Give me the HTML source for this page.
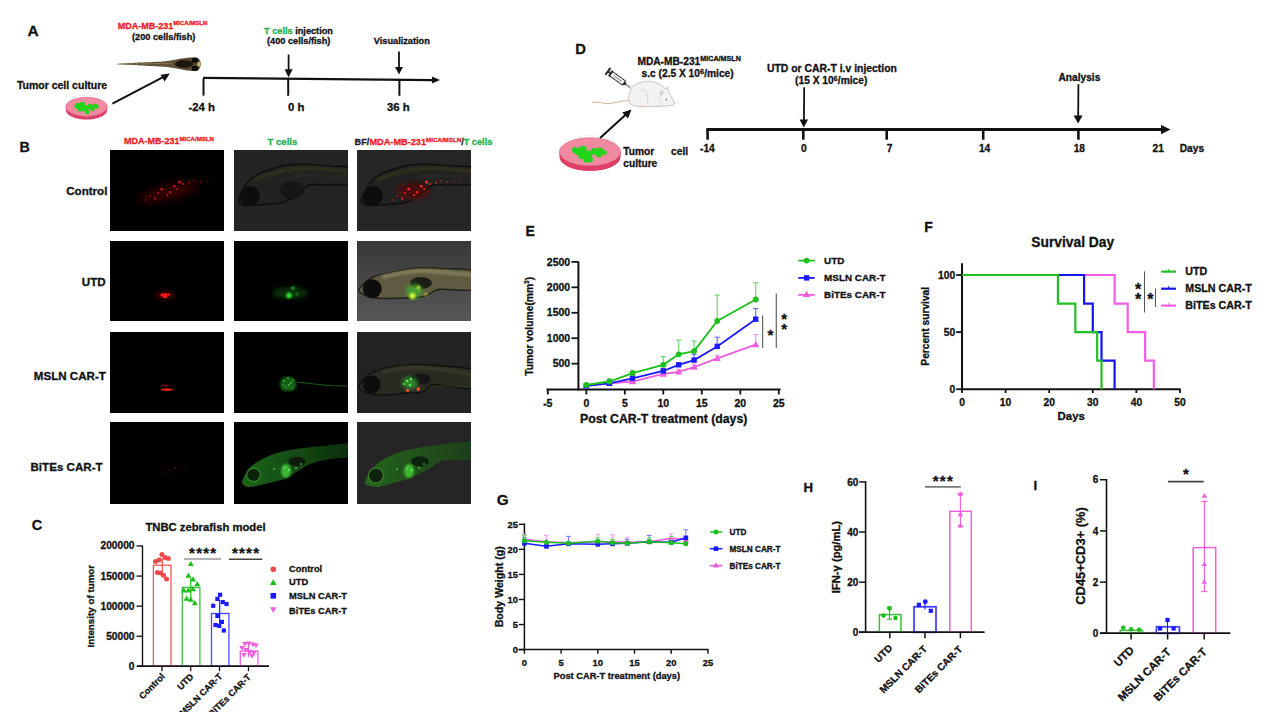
<!DOCTYPE html>
<html><head><meta charset="utf-8"><style>
html,body{margin:0;padding:0;background:#fff;}
svg{display:block;}
text{font-family:"Liberation Sans", sans-serif;}
</style></head><body>
<svg width="1269" height="712" viewBox="0 0 1269 712">
<rect width="1269" height="712" fill="#fff"/>
<text x="27.60" y="36.00" font-size="15.5" fill="#111" stroke="#111" stroke-width="0.3" text-anchor="start" font-weight="bold" >A</text>
<text x="117.8" y="29" font-size="9" fill="#ed1c24" stroke="#ed1c24" stroke-width="0.3" font-weight="bold">MDA-MB-231<tspan font-size="6" dy="-3.6">MICA/MSLN</tspan></text>
<text x="132.00" y="40.20" font-size="9.2" fill="#111" stroke="#111" stroke-width="0.3" text-anchor="start" font-weight="bold" >(200 cells/fish)</text>
<text x="16.90" y="89.20" font-size="10.5" fill="#111" stroke="#111" stroke-width="0.3" text-anchor="start" font-weight="bold" >Tumor cell culture</text>
<text x="264" y="33.8" font-size="9.2" fill="#111" stroke="#111" stroke-width="0.3" font-weight="bold"><tspan fill="#25b14b" stroke="#25b14b">T cells</tspan> injection</text>
<text x="267.00" y="43.60" font-size="9.2" fill="#111" stroke="#111" stroke-width="0.3" text-anchor="start" font-weight="bold" >(400 cells/fish)</text>
<text x="373.80" y="44.00" font-size="9.2" fill="#111" stroke="#111" stroke-width="0.3" text-anchor="start" font-weight="bold" >Visualization</text>
<text x="188.50" y="110.60" font-size="11.3" fill="#111" stroke="#111" stroke-width="0.3" text-anchor="start" font-weight="bold" >-24 h</text>
<text x="288.00" y="110.60" font-size="11.3" fill="#111" stroke="#111" stroke-width="0.3" text-anchor="start" font-weight="bold" >0 h</text>
<text x="387.00" y="110.60" font-size="11.3" fill="#111" stroke="#111" stroke-width="0.3" text-anchor="start" font-weight="bold" >36 h</text>
<polygon points="203.00,76.70 433.00,79.00 433.00,81.20 203.00,78.90" fill="#111" />
<polygon points="432.00,76.60 440.00,80.10 432.00,83.60" fill="#111" />
<line x1="203.50" y1="79.00" x2="203.50" y2="95.60" stroke="#111" stroke-width="2" />
<line x1="288.20" y1="79.00" x2="288.20" y2="95.80" stroke="#111" stroke-width="2" />
<line x1="399.40" y1="80.00" x2="399.40" y2="95.80" stroke="#111" stroke-width="2" />
<line x1="288.60" y1="54.50" x2="288.60" y2="70.00" stroke="#111" stroke-width="1.8" />
<polygon points="284.60,69.20 292.60,69.20 288.60,77.60" fill="#111" />
<line x1="399.00" y1="51.50" x2="399.00" y2="67.50" stroke="#111" stroke-width="1.8" />
<polygon points="395.00,67.00 403.00,67.00 399.00,74.60" fill="#111" />
<line x1="112.40" y1="103.70" x2="165.00" y2="76.20" stroke="#111" stroke-width="2" />
<polygon points="169.80,73.60 160.50,74.80 164.60,81.40" fill="#111" />
<text x="19.50" y="152.40" font-size="14.3" fill="#111" stroke="#111" stroke-width="0.3" text-anchor="start" font-weight="bold" >B</text>
<text x="123.9" y="144" font-size="9" fill="#ed1c24" stroke="#ed1c24" stroke-width="0.3" font-weight="bold">MDA-MB-231<tspan font-size="6.1" dy="-2.9">MICA/MSLN</tspan></text>
<text x="267.50" y="144.50" font-size="9.6" fill="#25b14b" stroke="#25b14b" stroke-width="0.3" text-anchor="start" font-weight="bold" >T cells</text>
<text x="354.6" y="144.6" font-size="9.2" fill="#222" stroke="#222" stroke-width="0.3" font-weight="bold">BF/<tspan fill="#ed1c24" stroke="#ed1c24">MDA-MB-231</tspan><tspan fill="#ed1c24" stroke="#ed1c24" font-size="6.2" dy="-3.1">MICA/MSLN</tspan><tspan dy="3.1">/</tspan><tspan fill="#25b14b" stroke="#25b14b">T cells</tspan></text>
<text x="66.20" y="195.00" font-size="11.6" fill="#111" stroke="#111" stroke-width="0.3" text-anchor="start" font-weight="bold" >Control</text>
<text x="81.80" y="286.10" font-size="11.6" fill="#111" stroke="#111" stroke-width="0.3" text-anchor="start" font-weight="bold" >UTD</text>
<text x="33.80" y="380.10" font-size="11.6" fill="#111" stroke="#111" stroke-width="0.3" text-anchor="start" font-weight="bold" >MSLN CAR-T</text>
<text x="30.50" y="470.70" font-size="11.6" fill="#111" stroke="#111" stroke-width="0.3" text-anchor="start" font-weight="bold" >BiTEs CAR-T</text>
<defs>
<filter id="b03" x="-20%" y="-20%" width="140%" height="140%"><feGaussianBlur stdDeviation="0.35"/></filter>
<filter id="b06" x="-20%" y="-20%" width="140%" height="140%"><feGaussianBlur stdDeviation="0.6"/></filter>
<filter id="b1" x="-50%" y="-50%" width="200%" height="200%"><feGaussianBlur stdDeviation="1"/></filter>
<filter id="b2" x="-50%" y="-50%" width="200%" height="200%"><feGaussianBlur stdDeviation="2"/></filter>
<filter id="b4" x="-50%" y="-50%" width="200%" height="200%"><feGaussianBlur stdDeviation="4"/></filter>
<linearGradient id="gUTD3" x1="0" y1="0" x2="0" y2="1"><stop offset="0" stop-color="#383838"/><stop offset="1" stop-color="#575757"/></linearGradient>
</defs>
<g filter="url(#b03)">
<ellipse cx="86.5" cy="105.6" rx="21.200000000000003" ry="10.6" fill="none" stroke="#e4e4e4" stroke-width="0.6"/>
<ellipse cx="86.5" cy="110.0" rx="20.6" ry="9.6" fill="#dc3f69"/>
<rect x="65.9" y="106.8" width="41.2" height="3.2" fill="#dc3f69"/>
<ellipse cx="86.5" cy="106.8" rx="20.6" ry="9.6" fill="#f08aa0" stroke="#e05a7e" stroke-width="0.6"/>
<circle cx="78.00" cy="105.50" r="2.80" fill="#22d41a"/>
<circle cx="82.50" cy="104.50" r="2.80" fill="#22d41a"/>
<circle cx="80.50" cy="109.00" r="2.80" fill="#22d41a"/>
<circle cx="85.50" cy="108.50" r="3.00" fill="#22d41a"/>
<circle cx="90.00" cy="106.50" r="2.70" fill="#22d41a"/>
<circle cx="95.00" cy="106.00" r="2.60" fill="#22d41a"/>
<circle cx="87.00" cy="112.00" r="2.40" fill="#22d41a"/>
<circle cx="76.50" cy="106.50" r="2.20" fill="#22d41a"/>
<circle cx="92.50" cy="109.00" r="2.30" fill="#22d41a"/>
<circle cx="97.00" cy="107.00" r="1.80" fill="#22d41a"/>
</g>
<g filter="url(#b03)">
<ellipse cx="590" cy="150.60000000000002" rx="31.1" ry="15" fill="none" stroke="#e4e4e4" stroke-width="0.6"/>
<ellipse cx="590" cy="157.0" rx="30.5" ry="14" fill="#dc3f69"/>
<rect x="559.5" y="151.8" width="61.0" height="5.2" fill="#dc3f69"/>
<ellipse cx="590" cy="151.8" rx="30.5" ry="14" fill="#f08aa0" stroke="#e05a7e" stroke-width="0.6"/>
<circle cx="578.00" cy="151.50" r="3.60" fill="#22d41a"/>
<circle cx="583.00" cy="149.50" r="3.80" fill="#22d41a"/>
<circle cx="582.00" cy="155.50" r="3.80" fill="#22d41a"/>
<circle cx="588.00" cy="154.50" r="4.00" fill="#22d41a"/>
<circle cx="594.00" cy="151.50" r="3.60" fill="#22d41a"/>
<circle cx="600.00" cy="151.00" r="3.40" fill="#22d41a"/>
<circle cx="590.00" cy="159.50" r="3.00" fill="#22d41a"/>
<circle cx="575.00" cy="150.00" r="3.00" fill="#22d41a"/>
<circle cx="599.00" cy="154.50" r="3.00" fill="#22d41a"/>
<circle cx="586.00" cy="160.00" r="2.60" fill="#22d41a"/>
<circle cx="604.00" cy="152.50" r="2.60" fill="#22d41a"/>
</g>
<g filter="url(#b06)">
<path d="M116.50,64.20 C116.50,63.73 131.92,63.10 140.00,62.60 C148.08,62.10 158.67,61.77 165.00,61.20 C171.33,60.63 173.83,59.80 178.00,59.20 C182.17,58.60 186.67,57.77 190.00,57.60 C193.33,57.43 196.20,57.13 198.00,58.20 C199.80,59.27 200.80,62.00 200.80,64.00 C200.80,66.00 199.80,69.07 198.00,70.20 C196.20,71.33 193.33,71.03 190.00,70.80 C186.67,70.57 182.17,69.47 178.00,68.80 C173.83,68.13 171.33,67.37 165.00,66.80 C158.67,66.23 148.08,65.83 140.00,65.40 C131.92,64.97 116.50,64.67 116.50,64.20 Z" fill="#5a4a34"/>
<path d="M122,64 L172,63.6" stroke="#a89868" stroke-width="1" stroke-dasharray="1.6,1.2"/>
<path d="M160,62.5 L185,61.5 M160,65.5 L185,66.5" stroke="#8a7a50" stroke-width="0.8" stroke-dasharray="1.2,1.4"/>
<ellipse cx="195" cy="60.2" rx="3.4" ry="2.6" fill="#0d0d0d"/>
<ellipse cx="195" cy="68.3" rx="3.4" ry="2.6" fill="#0d0d0d"/>
<ellipse cx="184" cy="64" rx="9" ry="3.8" fill="#1c140e"/>
<ellipse cx="198.8" cy="64.2" rx="1.6" ry="2.6" fill="#c8b060"/>
</g>
<g filter="url(#b03)">
<path d="M592,102.6 C598,100.5 603,104.5 610,103.5 C617,102.5 622,100.2 629,100.8" fill="none" stroke="#d4bda0" stroke-width="1.1"/>
<path d="M628.70,99.40 C628.57,97.30 628.78,94.00 629.90,91.50 C631.02,89.00 632.38,86.10 635.40,84.40 C638.42,82.70 644.18,81.43 648.00,81.30 C651.82,81.17 655.38,82.38 658.30,83.60 C661.22,84.82 663.95,88.03 665.50,88.60 C667.05,89.17 667.05,86.52 667.60,87.00 C668.15,87.48 667.85,89.17 668.80,91.50 C669.75,93.83 672.50,98.82 673.30,101.00 C674.10,103.18 675.18,103.75 673.60,104.60 C672.02,105.45 669.37,105.77 663.80,106.10 C658.23,106.43 645.72,106.93 640.20,106.60 C634.68,106.27 632.62,105.30 630.70,104.10 C628.78,102.90 628.83,101.50 628.70,99.40 Z" fill="#f2f2f2" stroke="#8a8a8a" stroke-width="0.45"/>
<path d="M641,89.7 C646.5,89.5 648,94 647.8,104" fill="none" stroke="#b0b0b0" stroke-width="0.45"/>
<ellipse cx="661.5" cy="93" rx="1.6" ry="2.2" fill="#dcdcdc" stroke="#999" stroke-width="0.35"/>
<path d="M659,97 C660,101 662,104 664,105" fill="none" stroke="#bbb" stroke-width="0.4"/>
<circle cx="666.4" cy="99.7" r="0.6" fill="#333"/>
<path d="M673,103.5 L678,100 M673,104 L679,103 M672,105 L676,108" stroke="#ccc" stroke-width="0.35"/>
<path d="M640,106.3 L645,106.5 M655,106.4 L660,106.2" stroke="#d8c0a8" stroke-width="0.9"/>
</g>
<g transform="translate(607.9,71.4) rotate(35.9)" filter="url(#b03)">
<rect x="-0.9" y="-4.3" width="1.8" height="8.6" fill="#111"/>
<rect x="0.9" y="-0.8" width="1.8" height="1.6" fill="#111"/>
<rect x="2.6" y="-3.5" width="1.5" height="7" fill="#111"/>
<rect x="4.1" y="-2.5" width="15.6" height="5" fill="#fff" stroke="#111" stroke-width="1"/>
<path d="M7,0 L17,0" stroke="#555" stroke-width="1.4" stroke-dasharray="0.9,0.7"/>
<path d="M19.7,-2 L22.6,-0.6 L22.6,0.6 L19.7,2 Z" fill="#111"/>
<line x1="22.6" y1="0" x2="27.8" y2="0" stroke="#111" stroke-width="0.8"/>
</g>
<defs>
<clipPath id="cp0"><rect x="110" y="150" width="114" height="81"/></clipPath>
<clipPath id="cp1"><rect x="234" y="150" width="114" height="81"/></clipPath>
<clipPath id="cp2"><rect x="357" y="150" width="114" height="81"/></clipPath>
<clipPath id="cp3"><rect x="110" y="241" width="114" height="80"/></clipPath>
<clipPath id="cp4"><rect x="234" y="241" width="114" height="80"/></clipPath>
<clipPath id="cp5"><rect x="357" y="241" width="114" height="80"/></clipPath>
<clipPath id="cp6"><rect x="110" y="332" width="114" height="81"/></clipPath>
<clipPath id="cp7"><rect x="234" y="332" width="114" height="81"/></clipPath>
<clipPath id="cp8"><rect x="357" y="332" width="114" height="81"/></clipPath>
<clipPath id="cp9"><rect x="110" y="422" width="114" height="82"/></clipPath>
<clipPath id="cp10"><rect x="234" y="422" width="114" height="82"/></clipPath>
<clipPath id="cp11"><rect x="357" y="422" width="114" height="82"/></clipPath>
</defs>
<g clip-path="url(#cp0)">
<rect x="110" y="150" width="114" height="81" fill="#000"/>
<g transform="translate(110,150)">
<g transform="rotate(-14 60 40)">
<ellipse cx="58" cy="42" rx="32" ry="7" fill="#3a0000" opacity="0.9" filter="url(#b4)"/>
</g>
<g filter="url(#b06)" opacity="0.85">
<circle cx="51.7" cy="39.2" r="1.4" fill="#d81818"/>
<circle cx="64.3" cy="36.2" r="1.4" fill="#d81818"/>
<circle cx="69.6" cy="32" r="1.6" fill="#d81818"/>
<circle cx="60" cy="42.2" r="1.2" fill="#d81818"/>
<circle cx="45.1" cy="48.7" r="1.1" fill="#d81818"/>
<circle cx="79.2" cy="32.6" r="0.9" fill="#d81818"/>
<circle cx="90.5" cy="32" r="0.8" fill="#d81818"/>
<circle cx="73" cy="34" r="1" fill="#d81818"/>
<circle cx="57" cy="45" r="0.9" fill="#d81818"/>
<circle cx="67" cy="39" r="0.9" fill="#d81818"/>
<circle cx="40" cy="46" r="0.8" fill="#d81818"/>
<circle cx="48" cy="43" r="0.9" fill="#d81818"/>
<circle cx="84" cy="31" r="0.7" fill="#d81818"/>
<circle cx="97" cy="31" r="0.6" fill="#d81818"/>
<circle cx="103" cy="32" r="0.5" fill="#d81818"/>
<circle cx="36" cy="50" r="0.7" fill="#d81818"/>
</g>
</g></g>
<g clip-path="url(#cp1)">
<rect x="234" y="150" width="114" height="81" fill="#242424"/>
<g transform="translate(234,150)">
<g filter="url(#b06)">
<path d="M5.10,48.10 C6.40,45.22 9.50,37.58 12.30,33.80 C15.10,30.02 17.92,27.78 21.90,25.40 C25.88,23.02 31.23,21.18 36.20,19.50 C41.17,17.82 46.13,16.20 51.70,15.30 C57.27,14.40 62.63,14.00 69.60,14.10 C76.57,14.20 85.10,15.17 93.50,15.90 C101.90,16.63 115.58,15.52 120.00,18.50 C124.42,21.48 124.42,31.05 120.00,33.80 C115.58,36.55 100.90,34.80 93.50,35.00 C86.10,35.20 80.38,33.60 75.60,35.00 C70.82,36.40 69.18,40.52 64.80,43.40 C60.42,46.28 54.47,50.53 49.30,52.30 C44.13,54.07 38.37,53.50 33.80,54.00 C29.23,54.50 25.88,55.08 21.90,55.30 C17.92,55.52 12.80,56.00 9.90,55.30 C7.00,54.60 5.30,52.30 4.50,51.10 C3.70,49.90 3.80,50.98 5.10,48.10 Z" fill="#232320" stroke="#0e0e0c" stroke-width="1.4"/>
<circle cx="15.9" cy="46" r="10" fill="#0e0e0c"/>
<ellipse cx="58" cy="40" rx="12" ry="9" fill="#141410" opacity="0.85"/>
</g>
<path d="M20.00,30.00 C22.67,29.00 30.17,25.75 36.00,24.00 C41.83,22.25 47.67,20.42 55.00,19.50 C62.33,18.58 70.17,18.25 80.00,18.50 C89.83,18.75 108.33,20.58 114.00,21.00 " fill="none" stroke="#36331f" stroke-width="3.5" opacity="0.9" filter="url(#b1)"/>
<path d="M60.00,26.00 C63.33,25.92 71.00,25.33 80.00,25.50 C89.00,25.67 108.33,26.75 114.00,27.00 " fill="none" stroke="#2e2c20" stroke-width="3" opacity="0.8" filter="url(#b1)"/>
</g></g>
<g clip-path="url(#cp2)">
<rect x="357" y="150" width="114" height="81" fill="#262626"/>
<g transform="translate(357,150)">
<g filter="url(#b06)">
<path d="M5.10,48.10 C6.40,45.22 9.50,37.58 12.30,33.80 C15.10,30.02 17.92,27.78 21.90,25.40 C25.88,23.02 31.23,21.18 36.20,19.50 C41.17,17.82 46.13,16.20 51.70,15.30 C57.27,14.40 62.63,14.00 69.60,14.10 C76.57,14.20 85.10,15.17 93.50,15.90 C101.90,16.63 115.58,15.52 120.00,18.50 C124.42,21.48 124.42,31.05 120.00,33.80 C115.58,36.55 100.90,34.80 93.50,35.00 C86.10,35.20 80.38,33.60 75.60,35.00 C70.82,36.40 69.18,40.52 64.80,43.40 C60.42,46.28 54.47,50.53 49.30,52.30 C44.13,54.07 38.37,53.50 33.80,54.00 C29.23,54.50 25.88,55.08 21.90,55.30 C17.92,55.52 12.80,56.00 9.90,55.30 C7.00,54.60 5.30,52.30 4.50,51.10 C3.70,49.90 3.80,50.98 5.10,48.10 Z" fill="#242420" stroke="#0e0e0c" stroke-width="1.4"/>
<circle cx="15.9" cy="46" r="10" fill="#0e0e0c"/>
<ellipse cx="58" cy="40" rx="12" ry="9" fill="#141410" opacity="0.85"/>
</g>
<path d="M20.00,30.00 C22.67,29.00 30.17,25.75 36.00,24.00 C41.83,22.25 47.67,20.42 55.00,19.50 C62.33,18.58 70.17,18.25 80.00,18.50 C89.83,18.75 108.33,20.58 114.00,21.00 " fill="none" stroke="#36331f" stroke-width="3.5" opacity="0.9" filter="url(#b1)"/>
<path d="M60.00,26.00 C63.33,25.92 71.00,25.33 80.00,25.50 C89.00,25.67 108.33,26.75 114.00,27.00 " fill="none" stroke="#2e2c20" stroke-width="3" opacity="0.8" filter="url(#b1)"/>
<ellipse cx="56" cy="41" rx="17" ry="9" fill="#5a1010" opacity="0.7" filter="url(#b2)"/>
<g filter="url(#b06)" opacity="0.95">
<circle cx="51.7" cy="39.2" r="1.4" fill="#ff2a2a"/>
<circle cx="64.3" cy="36.2" r="1.4" fill="#ff2a2a"/>
<circle cx="69.6" cy="32" r="1.6" fill="#ff2a2a"/>
<circle cx="60" cy="42.2" r="1.2" fill="#ff2a2a"/>
<circle cx="45.1" cy="48.7" r="1.1" fill="#ff2a2a"/>
<circle cx="79.2" cy="32.6" r="0.9" fill="#ff2a2a"/>
<circle cx="90.5" cy="32" r="0.8" fill="#ff2a2a"/>
<circle cx="73" cy="34" r="1" fill="#ff2a2a"/>
<circle cx="57" cy="45" r="0.9" fill="#ff2a2a"/>
<circle cx="67" cy="39" r="0.9" fill="#ff2a2a"/>
<circle cx="40" cy="46" r="0.8" fill="#ff2a2a"/>
<circle cx="48" cy="43" r="0.9" fill="#ff2a2a"/>
<circle cx="84" cy="31" r="0.7" fill="#ff2a2a"/>
<circle cx="97" cy="31" r="0.6" fill="#ff2a2a"/>
<circle cx="103" cy="32" r="0.5" fill="#ff2a2a"/>
<circle cx="36" cy="50" r="0.7" fill="#ff2a2a"/>
</g>
</g></g>
<g clip-path="url(#cp3)">
<rect x="110" y="241" width="114" height="80" fill="#000"/>
<g transform="translate(110,241)">
<ellipse cx="55" cy="54" rx="10" ry="4" fill="#600000" opacity="0.7" filter="url(#b2)"/>
<g filter="url(#b06)" opacity="1">
<circle cx="55" cy="54.5" r="2.6" fill="#ff1414"/>
<circle cx="52" cy="54" r="1.6" fill="#ff1414"/>
<circle cx="58.5" cy="53.5" r="1.3" fill="#ff1414"/>
</g>
</g></g>
<g clip-path="url(#cp4)">
<rect x="234" y="241" width="114" height="80" fill="#000"/>
<g transform="translate(234,241)">
<ellipse cx="56" cy="52" rx="18" ry="6" fill="#0a3a0a" opacity="0.8" filter="url(#b2)"/>
<g filter="url(#b1)" opacity="1">
<circle cx="55" cy="54.5" r="2.8" fill="#30f030"/>
<circle cx="59" cy="47" r="1.6" fill="#30f030"/>
<circle cx="63" cy="53" r="1.1" fill="#30f030"/>
</g>
</g></g>
<g clip-path="url(#cp5)">
<rect x="357" y="241" width="114" height="80" fill="url(#gUTD3)"/>
<g transform="translate(357,241)">
<g filter="url(#b06)">
<path d="M2.90,47.00 C4.93,44.33 11.10,38.63 16.40,36.00 C21.70,33.37 27.57,32.72 34.70,31.20 C41.83,29.68 51.05,27.52 59.20,26.90 C67.35,26.28 73.47,26.88 83.60,27.50 C93.73,28.12 113.93,27.13 120.00,30.60 C126.07,34.07 126.07,45.35 120.00,48.30 C113.93,51.25 91.30,47.68 83.60,48.30 C75.90,48.92 76.65,50.78 73.80,52.00 C70.95,53.22 69.97,54.80 66.50,55.60 C63.03,56.40 58.30,56.48 53.00,56.80 C47.70,57.12 40.80,57.50 34.70,57.50 C28.60,57.50 21.48,57.72 16.40,56.80 C11.32,55.88 6.45,53.63 4.20,52.00 C1.95,50.37 0.87,49.67 2.90,47.00 Z" fill="#5e5a40" stroke="#202018" stroke-width="1.4"/>
<circle cx="15.2" cy="47.7" r="9.5" fill="#0e0e0c"/>
<ellipse cx="64" cy="42" rx="11" ry="6" fill="#141410" opacity="0.85"/>
</g>
<path d="M25.00,36.00 C28.33,35.33 37.50,33.00 45.00,32.00 C52.50,31.00 58.50,29.67 70.00,30.00 C81.50,30.33 106.67,33.33 114.00,34.00 " fill="none" stroke="#8a8660" stroke-width="4" opacity="0.8" filter="url(#b1)"/>
<ellipse cx="57" cy="50" rx="8" ry="7" fill="#40b030" opacity="0.8" filter="url(#b2)"/>
<g filter="url(#b1)" opacity="1">
<circle cx="55.5" cy="55" r="3" fill="#d8ff30"/>
<circle cx="61.6" cy="46.5" r="1.8" fill="#d8ff30"/>
<circle cx="69" cy="53.2" r="1.3" fill="#d8ff30"/>
</g>
</g></g>
<g clip-path="url(#cp6)">
<rect x="110" y="332" width="114" height="81" fill="#000"/>
<g transform="translate(110,332)">
<g filter="url(#b06)">
<ellipse cx="57" cy="57.6" rx="6.5" ry="1.3" fill="#e82010"/>
<ellipse cx="55" cy="53.5" rx="4" ry="0.8" fill="#901010"/>
</g>
</g></g>
<g clip-path="url(#cp7)">
<rect x="234" y="332" width="114" height="81" fill="#000"/>
<g transform="translate(234,332)">
<g filter="url(#b1)">
<path d="M46,52 C46,46 52,43 57,45 C62,47 64,52 61,57 C58,60 50,60 47,57 Z" fill="#1a6a1a" opacity="0.9"/>
</g>
<g filter="url(#b03)" opacity="1">
<circle cx="50" cy="49" r="0.9" fill="#40c040"/>
<circle cx="54" cy="46" r="0.8" fill="#40c040"/>
<circle cx="57" cy="51" r="1.0" fill="#40c040"/>
<circle cx="52" cy="55" r="0.8" fill="#40c040"/>
<circle cx="59" cy="48" r="0.8" fill="#40c040"/>
<circle cx="49" cy="53" r="0.7" fill="#40c040"/>
<circle cx="58" cy="56" r="0.7" fill="#40c040"/>
<circle cx="55" cy="53" r="1.0" fill="#40c040"/>
</g>
<path d="M63.00,50.00 C65.83,50.33 74.67,51.42 80.00,52.00 C85.33,52.58 89.33,53.17 95.00,53.50 C100.67,53.83 110.83,53.92 114.00,54.00 " fill="none" stroke="#1a5a1a" stroke-width="1.2" opacity="0.9" filter="url(#b06)"/>
</g></g>
<g clip-path="url(#cp8)">
<rect x="357" y="332" width="114" height="81" fill="#232323"/>
<g transform="translate(357,332)">
<g filter="url(#b06)">
<path d="M2.70,52.90 C4.08,50.32 8.12,44.98 12.30,42.20 C16.48,39.42 21.23,37.80 27.80,36.20 C34.37,34.60 42.73,33.00 51.70,32.60 C60.67,32.20 70.22,32.80 81.60,33.80 C92.98,34.80 113.60,34.82 120.00,38.60 C126.40,42.38 126.40,54.12 120.00,56.50 C113.60,58.88 89.60,53.30 81.60,52.90 C73.60,52.50 74.80,52.90 72.00,54.10 C69.20,55.30 69.18,58.90 64.80,60.10 C60.42,61.30 50.87,60.90 45.70,61.30 C40.53,61.70 38.77,62.30 33.80,62.50 C28.83,62.70 20.87,63.30 15.90,62.50 C10.93,61.70 6.20,59.30 4.00,57.70 C1.80,56.10 1.32,55.48 2.70,52.90 Z" fill="#2c2c22" stroke="#111110" stroke-width="1.4"/>
<circle cx="14.7" cy="52.3" r="9" fill="#0e0e0c"/>
<ellipse cx="64" cy="47" rx="10" ry="5.5" fill="#141410" opacity="0.85"/>
</g>
<path d="M25.00,40.00 C29.17,39.33 40.83,36.50 50.00,36.00 C59.17,35.50 69.33,36.00 80.00,37.00 C90.67,38.00 108.33,41.17 114.00,42.00 " fill="none" stroke="#3c3a28" stroke-width="4" opacity="0.8" filter="url(#b1)"/>
<ellipse cx="53" cy="51" rx="8" ry="6" fill="#30a030" opacity="0.8" filter="url(#b2)"/>
<g filter="url(#b06)" opacity="1">
<circle cx="50" cy="49" r="1.3" fill="#50f050"/>
<circle cx="54" cy="47" r="1.2" fill="#50f050"/>
<circle cx="53" cy="53" r="1.3" fill="#50f050"/>
<circle cx="47" cy="52" r="1" fill="#50f050"/>
</g>
<g filter="url(#b06)" opacity="1">
<circle cx="50.5" cy="58.3" r="1.6" fill="#ff5020"/>
<circle cx="61.3" cy="57.1" r="1.8" fill="#ff5020"/>
</g>
<path d="M72.00,55.00 C75.00,54.83 83.00,54.08 90.00,54.00 C97.00,53.92 110.00,54.42 114.00,54.50 " fill="none" stroke="#1f4a1a" stroke-width="1" opacity="0.8" filter="url(#b06)"/>
</g></g>
<g clip-path="url(#cp9)">
<rect x="110" y="422" width="114" height="82" fill="#000"/>
<g transform="translate(110,422)">
<g filter="url(#b03)" opacity="1">
<circle cx="55" cy="50" r="0.7" fill="#901010"/>
<circle cx="60" cy="48" r="0.7" fill="#901010"/>
<circle cx="65" cy="46" r="0.8" fill="#901010"/>
<circle cx="70" cy="44" r="0.6" fill="#901010"/>
<circle cx="62" cy="52" r="0.6" fill="#901010"/>
<circle cx="75" cy="45" r="0.5" fill="#901010"/>
<circle cx="58" cy="54" r="0.5" fill="#901010"/>
</g>
</g></g>
<defs><linearGradient id="gf4" x1="0" y1="0" x2="1" y2="0"><stop offset="0" stop-color="#1c6418"/><stop offset="0.45" stop-color="#154c13"/><stop offset="1" stop-color="#0a2a0a"/></linearGradient><linearGradient id="gf5" x1="0" y1="0" x2="1" y2="0"><stop offset="0" stop-color="#266420"/><stop offset="0.45" stop-color="#22521c"/><stop offset="1" stop-color="#1e3a1a"/></linearGradient></defs>
<g clip-path="url(#cp10)">
<rect x="234" y="422" width="114" height="82" fill="#000"/>
<g transform="translate(234,422)">
<g filter="url(#b06)">
<path d="M8.70,57.70 C9.80,54.90 12.72,49.08 15.90,45.70 C19.08,42.32 22.83,39.98 27.80,37.40 C32.77,34.82 38.73,32.10 45.70,30.20 C52.67,28.30 61.63,27.08 69.60,26.00 C77.57,24.92 85.10,24.38 93.50,23.70 C101.90,23.02 115.58,20.22 120.00,21.90 C124.42,23.58 124.42,31.22 120.00,33.80 C115.58,36.38 100.90,36.00 93.50,37.40 C86.10,38.80 80.57,40.22 75.60,42.20 C70.63,44.18 67.68,46.92 63.70,49.30 C59.72,51.68 56.68,54.50 51.70,56.50 C46.72,58.50 39.77,59.90 33.80,61.30 C27.83,62.70 19.98,64.70 15.90,64.90 C11.82,65.10 10.50,63.70 9.30,62.50 C8.10,61.30 7.60,60.50 8.70,57.70 Z" fill="url(#gf4)"/>
<circle cx="19.5" cy="52.9" r="6.8" fill="#082008" stroke="#2a8a22" stroke-width="1.2"/>
<ellipse cx="63" cy="39.5" rx="8.5" ry="4.8" fill="#0a1e0a"/>
</g>
<ellipse cx="52" cy="49" rx="5" ry="7" fill="#48d038" opacity="0.8" filter="url(#b1)"/>
<g filter="url(#b03)" opacity="1">
<circle cx="55" cy="48" r="0.9" fill="#60ff60"/>
<circle cx="62" cy="46" r="0.8" fill="#60ff60"/>
<circle cx="67" cy="42" r="0.8" fill="#60ff60"/>
<circle cx="40" cy="47" r="0.8" fill="#60ff60"/>
<circle cx="50" cy="46" r="0.8" fill="#60ff60"/>
</g>
</g></g>
<g clip-path="url(#cp11)">
<rect x="357" y="422" width="114" height="82" fill="#252525"/>
<g transform="translate(357,422)">
<g filter="url(#b06)">
<path d="M8.70,57.70 C10.10,54.42 14.12,47.38 18.30,43.40 C22.48,39.42 28.23,36.40 33.80,33.80 C39.37,31.20 44.73,29.48 51.70,27.80 C58.67,26.12 64.22,24.98 75.60,23.70 C86.98,22.42 112.60,18.02 120.00,20.10 C127.40,22.18 125.40,33.12 120.00,36.20 C114.60,39.28 95.00,37.22 87.60,38.60 C80.20,39.98 79.40,42.52 75.60,44.50 C71.80,46.48 68.78,48.50 64.80,50.50 C60.82,52.50 55.87,54.90 51.70,56.50 C47.53,58.10 44.77,58.70 39.80,60.10 C34.83,61.50 26.88,64.40 21.90,64.90 C16.92,65.40 12.10,64.30 9.90,63.10 C7.70,61.90 7.30,60.98 8.70,57.70 Z" fill="url(#gf5)"/>
<circle cx="18.9" cy="53.5" r="7.5" fill="#0c200a" stroke="#3a8a28" stroke-width="1.2"/>
<ellipse cx="63" cy="39.5" rx="9" ry="5" fill="#102210"/>
</g>
<ellipse cx="52" cy="49" rx="5" ry="7" fill="#48d038" opacity="0.8" filter="url(#b1)"/>
<g filter="url(#b03)" opacity="1">
<circle cx="55" cy="48" r="0.9" fill="#60ff60"/>
<circle cx="62" cy="46" r="0.8" fill="#60ff60"/>
<circle cx="67" cy="42" r="0.8" fill="#60ff60"/>
<circle cx="40" cy="47" r="0.8" fill="#60ff60"/>
<circle cx="50" cy="46" r="0.8" fill="#60ff60"/>
</g>
</g></g>
<text x="31.70" y="530.20" font-size="14.5" fill="#111" stroke="#111" stroke-width="0.3" text-anchor="start" font-weight="bold" >C</text>
<text x="145.50" y="530.60" font-size="11.25" fill="#111" stroke="#111" stroke-width="0.3" text-anchor="start" font-weight="bold" >TNBC zebrafish model</text>
<line x1="142.50" y1="545.50" x2="142.50" y2="667.00" stroke="#111" stroke-width="1.4" />
<line x1="137.40" y1="666.30" x2="269.00" y2="666.30" stroke="#111" stroke-width="1.4" />
<line x1="136.50" y1="666.30" x2="142.50" y2="666.30" stroke="#111" stroke-width="1.3" />
<text x="134.50" y="669.80" font-size="10.2" fill="#111" stroke="#111" stroke-width="0.3" text-anchor="end" font-weight="bold" >0</text>
<line x1="136.50" y1="636.22" x2="142.50" y2="636.22" stroke="#111" stroke-width="1.3" />
<text x="134.50" y="639.72" font-size="10.2" fill="#111" stroke="#111" stroke-width="0.3" text-anchor="end" font-weight="bold" >50000</text>
<line x1="136.50" y1="606.14" x2="142.50" y2="606.14" stroke="#111" stroke-width="1.3" />
<text x="134.50" y="609.64" font-size="10.2" fill="#111" stroke="#111" stroke-width="0.3" text-anchor="end" font-weight="bold" >100000</text>
<line x1="136.50" y1="576.06" x2="142.50" y2="576.06" stroke="#111" stroke-width="1.3" />
<text x="134.50" y="579.56" font-size="10.2" fill="#111" stroke="#111" stroke-width="0.3" text-anchor="end" font-weight="bold" >150000</text>
<line x1="136.50" y1="545.98" x2="142.50" y2="545.98" stroke="#111" stroke-width="1.3" />
<text x="134.50" y="549.48" font-size="10.2" fill="#111" stroke="#111" stroke-width="0.3" text-anchor="end" font-weight="bold" >200000</text>
<text x="0" y="0" font-size="9.8" fill="#111" stroke="#111" stroke-width="0.3" text-anchor="middle" font-weight="bold" transform="translate(94.40,606.20) rotate(-90)">Intensity of tumor</text>
<line x1="162.00" y1="666.30" x2="162.00" y2="671.20" stroke="#111" stroke-width="1.3" />
<line x1="190.70" y1="666.30" x2="190.70" y2="671.20" stroke="#111" stroke-width="1.3" />
<line x1="219.50" y1="666.30" x2="219.50" y2="671.20" stroke="#111" stroke-width="1.3" />
<line x1="248.50" y1="666.30" x2="248.50" y2="671.20" stroke="#111" stroke-width="1.3" />
<rect x="153.40" y="565.20" width="17.60" height="101.10" fill="none" stroke="#f25858" stroke-width="1.3" />
<rect x="182.30" y="587.40" width="17.60" height="78.90" fill="none" stroke="#3cbf3c" stroke-width="1.3" />
<rect x="211.50" y="613.50" width="17.40" height="52.80" fill="none" stroke="#4646ff" stroke-width="1.3" />
<rect x="240.30" y="651.00" width="17.60" height="15.30" fill="none" stroke="#f060e0" stroke-width="1.3" />
<line x1="162.30" y1="558.00" x2="162.30" y2="574.70" stroke="#f04848" stroke-width="1.2" />
<circle cx="161.90" cy="554.60" r="2.50" fill="#f04848" />
<circle cx="168.30" cy="558.60" r="2.50" fill="#f04848" />
<circle cx="165.20" cy="557.40" r="2.50" fill="#f04848" />
<circle cx="155.50" cy="561.60" r="2.50" fill="#f04848" />
<circle cx="159.20" cy="560.10" r="2.50" fill="#f04848" />
<circle cx="157.40" cy="572.50" r="2.50" fill="#f04848" />
<circle cx="160.50" cy="572.90" r="2.50" fill="#f04848" />
<circle cx="163.40" cy="575.30" r="2.50" fill="#f04848" />
<circle cx="166.50" cy="578.90" r="2.50" fill="#f04848" />
<line x1="190.80" y1="578.00" x2="190.80" y2="598.50" stroke="#1cc01c" stroke-width="1.2" />
<polygon points="190.80,560.80 193.80,566.05 187.80,566.05" fill="#1cc01c" />
<polygon points="188.40,572.60 191.40,577.85 185.40,577.85" fill="#1cc01c" />
<polygon points="193.00,576.30 196.00,581.55 190.00,581.55" fill="#1cc01c" />
<polygon points="197.20,580.90 200.20,586.15 194.20,586.15" fill="#1cc01c" />
<polygon points="183.90,587.30 186.90,592.55 180.90,592.55" fill="#1cc01c" />
<polygon points="188.40,587.30 191.40,592.55 185.40,592.55" fill="#1cc01c" />
<polygon points="193.00,586.00 196.00,591.25 190.00,591.25" fill="#1cc01c" />
<polygon points="186.60,595.50 189.60,600.75 183.60,600.75" fill="#1cc01c" />
<polygon points="190.80,596.40 193.80,601.65 187.80,601.65" fill="#1cc01c" />
<polygon points="194.80,600.00 197.80,605.25 191.80,605.25" fill="#1cc01c" />
<line x1="219.70" y1="600.00" x2="219.70" y2="626.80" stroke="#1a1aff" stroke-width="1.2" />
<rect x="218.00" y="592.70" width="4.20" height="4.20" fill="#1a1aff" stroke="none" stroke-width="1" />
<rect x="215.30" y="596.80" width="4.20" height="4.20" fill="#1a1aff" stroke="none" stroke-width="1" />
<rect x="220.70" y="600.00" width="4.20" height="4.20" fill="#1a1aff" stroke="none" stroke-width="1" />
<rect x="224.40" y="601.90" width="4.20" height="4.20" fill="#1a1aff" stroke="none" stroke-width="1" />
<rect x="211.10" y="603.70" width="4.20" height="4.20" fill="#1a1aff" stroke="none" stroke-width="1" />
<rect x="215.30" y="613.80" width="4.20" height="4.20" fill="#1a1aff" stroke="none" stroke-width="1" />
<rect x="219.80" y="619.80" width="4.20" height="4.20" fill="#1a1aff" stroke="none" stroke-width="1" />
<rect x="213.40" y="622.90" width="4.20" height="4.20" fill="#1a1aff" stroke="none" stroke-width="1" />
<rect x="217.10" y="623.80" width="4.20" height="4.20" fill="#1a1aff" stroke="none" stroke-width="1" />
<rect x="221.70" y="628.40" width="4.20" height="4.20" fill="#1a1aff" stroke="none" stroke-width="1" />
<line x1="248.40" y1="643.00" x2="248.40" y2="657.00" stroke="#f05ce0" stroke-width="1.2" />
<polygon points="245.00,646.76 247.76,641.93 242.24,641.93" fill="#f05ce0" />
<polygon points="249.00,646.26 251.76,641.43 246.24,641.43" fill="#f05ce0" />
<polygon points="253.00,647.26 255.76,642.43 250.24,642.43" fill="#f05ce0" />
<polygon points="256.00,648.26 258.76,643.43 253.24,643.43" fill="#f05ce0" />
<polygon points="242.00,650.76 244.76,645.93 239.24,645.93" fill="#f05ce0" />
<polygon points="246.00,652.76 248.76,647.93 243.24,647.93" fill="#f05ce0" />
<polygon points="250.00,654.76 252.76,649.93 247.24,649.93" fill="#f05ce0" />
<polygon points="254.00,655.76 256.76,650.93 251.24,650.93" fill="#f05ce0" />
<polygon points="244.00,657.76 246.76,652.93 241.24,652.93" fill="#f05ce0" />
<polygon points="252.00,658.76 254.76,653.93 249.24,653.93" fill="#f05ce0" />
<line x1="183.90" y1="559.00" x2="221.00" y2="559.00" stroke="#999" stroke-width="1.6" />
<line x1="228.90" y1="559.30" x2="262.30" y2="559.30" stroke="#444" stroke-width="1.6" />
<text x="203.20" y="558.40" font-size="15" fill="#111" stroke="#111" stroke-width="0.3" text-anchor="middle" font-weight="bold" letter-spacing="1.2">****</text>
<text x="246.10" y="558.20" font-size="15" fill="#111" stroke="#111" stroke-width="0.3" text-anchor="middle" font-weight="bold" letter-spacing="1.2">****</text>
<circle cx="273.30" cy="569.30" r="2.80" fill="#f04848" />
<polygon points="273.30,579.24 276.66,585.12 269.94,585.12" fill="#1cc01c" />
<rect x="270.50" y="593.00" width="5.60" height="5.60" fill="#1a1aff" stroke="none" stroke-width="1" />
<polygon points="273.30,613.04 276.54,607.37 270.06,607.37" fill="#f05ce0" />
<text x="289.10" y="572.00" font-size="9.3" fill="#111" stroke="#111" stroke-width="0.3" text-anchor="start" font-weight="bold" >Control</text>
<text x="289.10" y="584.90" font-size="9.3" fill="#111" stroke="#111" stroke-width="0.3" text-anchor="start" font-weight="bold" >UTD</text>
<text x="289.10" y="598.90" font-size="9.3" fill="#111" stroke="#111" stroke-width="0.3" text-anchor="start" font-weight="bold" >MSLN CAR-T</text>
<text x="289.10" y="613.50" font-size="9.3" fill="#111" stroke="#111" stroke-width="0.3" text-anchor="start" font-weight="bold" >BiTEs CAR-T</text>
<line x1="137.40" y1="666.30" x2="269.00" y2="666.30" stroke="#111" stroke-width="1.4" />
<text x="0" y="0" font-size="9" fill="#111" stroke="#111" stroke-width="0.3" text-anchor="end" font-weight="bold" transform="translate(165.30,677.00) rotate(-45)">Control</text>
<text x="0" y="0" font-size="9" fill="#111" stroke="#111" stroke-width="0.3" text-anchor="end" font-weight="bold" transform="translate(194.00,677.30) rotate(-45)">UTD</text>
<text x="0" y="0" font-size="9" fill="#111" stroke="#111" stroke-width="0.3" text-anchor="end" font-weight="bold" transform="translate(222.80,677.00) rotate(-45)">MSLN CAR-T</text>
<text x="0" y="0" font-size="9" fill="#111" stroke="#111" stroke-width="0.3" text-anchor="end" font-weight="bold" transform="translate(251.50,677.80) rotate(-45)">BiTEs CAR-T</text>
<text x="575.20" y="54.40" font-size="14.8" fill="#111" stroke="#111" stroke-width="0.3" text-anchor="start" font-weight="bold" >D</text>
<text x="637.4" y="64.8" font-size="10.2" fill="#111" stroke="#111" stroke-width="0.3" font-weight="bold">MDA-MB-231<tspan font-size="7.2" dy="-3.6">MICA/MSLN</tspan></text>
<text x="641.6" y="77.4" font-size="10.2" fill="#111" stroke="#111" stroke-width="0.3" font-weight="bold">s.c (2.5 X 10<tspan font-size="7.6" dy="-3.6">6</tspan><tspan dy="3.6">/mice)</tspan></text>
<text x="767.00" y="71.75" font-size="10.4" fill="#111" stroke="#111" stroke-width="0.3" text-anchor="start" font-weight="bold" >UTD or CAR-T i.v injection</text>
<text x="795.1" y="84.4" font-size="10.2" fill="#111" stroke="#111" stroke-width="0.3" font-weight="bold">(15 X 10<tspan font-size="7.6" dy="-3.6">6</tspan><tspan dy="3.6">/mice)</tspan></text>
<rect x="706.40" y="128.00" width="457.00" height="3.00" fill="#111" stroke="none" stroke-width="1" />
<polygon points="1161.00,125.00 1170.50,129.60 1161.00,134.20" fill="#111" />
<line x1="707.60" y1="129.00" x2="707.60" y2="139.70" stroke="#111" stroke-width="2.6" />
<line x1="803.30" y1="129.00" x2="803.30" y2="139.70" stroke="#111" stroke-width="2.6" />
<line x1="886.70" y1="129.00" x2="886.70" y2="139.70" stroke="#111" stroke-width="2.6" />
<line x1="983.20" y1="129.00" x2="983.20" y2="139.70" stroke="#111" stroke-width="2.6" />
<line x1="1078.40" y1="129.00" x2="1078.40" y2="139.70" stroke="#111" stroke-width="2.6" />
<text x="700.00" y="152.30" font-size="10.2" fill="#111" stroke="#111" stroke-width="0.3" text-anchor="start" font-weight="bold" >-14</text>
<text x="801.00" y="152.30" font-size="10.2" fill="#111" stroke="#111" stroke-width="0.3" text-anchor="start" font-weight="bold" >0</text>
<text x="886.70" y="152.30" font-size="10.2" fill="#111" stroke="#111" stroke-width="0.3" text-anchor="start" font-weight="bold" >7</text>
<text x="978.90" y="152.30" font-size="10.2" fill="#111" stroke="#111" stroke-width="0.3" text-anchor="start" font-weight="bold" >14</text>
<text x="1073.70" y="152.30" font-size="10.2" fill="#111" stroke="#111" stroke-width="0.3" text-anchor="start" font-weight="bold" >18</text>
<text x="1152.60" y="152.30" font-size="10.2" fill="#111" stroke="#111" stroke-width="0.3" text-anchor="start" font-weight="bold" >21</text>
<text x="1179.70" y="152.30" font-size="10.2" fill="#111" stroke="#111" stroke-width="0.3" text-anchor="start" font-weight="bold" >Days</text>
<line x1="804.20" y1="87.20" x2="803.90" y2="120.50" stroke="#111" stroke-width="1.8" />
<polygon points="799.60,119.60 808.00,119.60 803.80,127.40" fill="#111" />
<text x="1058.40" y="81.10" font-size="10.2" fill="#111" stroke="#111" stroke-width="0.3" text-anchor="start" font-weight="bold" >Analysis</text>
<line x1="1078.40" y1="84.20" x2="1078.20" y2="116.50" stroke="#111" stroke-width="1.8" />
<polygon points="1073.60,115.60 1082.60,115.60 1078.10,123.40" fill="#111" />
<text x="623.30" y="155.30" font-size="10.2" fill="#111" stroke="#111" stroke-width="0.3" text-anchor="start" font-weight="bold" >Tumor</text>
<text x="671.10" y="155.30" font-size="10.2" fill="#111" stroke="#111" stroke-width="0.3" text-anchor="start" font-weight="bold" >cell</text>
<text x="623.30" y="167.30" font-size="10.2" fill="#111" stroke="#111" stroke-width="0.3" text-anchor="start" font-weight="bold" >culture</text>
<line x1="600.10" y1="137.90" x2="627.00" y2="113.50" stroke="#111" stroke-width="2" />
<polygon points="631.50,109.60 622.20,112.40 628.00,118.60" fill="#111" />
<text x="525.60" y="236.40" font-size="14" fill="#111" stroke="#111" stroke-width="0.3" text-anchor="start" font-weight="bold" >E</text>
<line x1="578.40" y1="261.40" x2="578.40" y2="390.40" stroke="#111" stroke-width="2" />
<line x1="546.50" y1="389.40" x2="780.60" y2="389.40" stroke="#111" stroke-width="2" />
<line x1="571.50" y1="363.66" x2="578.40" y2="363.66" stroke="#111" stroke-width="1.8" />
<text x="570.20" y="367.36" font-size="10.5" fill="#111" stroke="#111" stroke-width="0.3" text-anchor="end" font-weight="bold" >500</text>
<line x1="571.50" y1="338.22" x2="578.40" y2="338.22" stroke="#111" stroke-width="1.8" />
<text x="570.20" y="341.92" font-size="10.5" fill="#111" stroke="#111" stroke-width="0.3" text-anchor="end" font-weight="bold" >1000</text>
<line x1="571.50" y1="312.78" x2="578.40" y2="312.78" stroke="#111" stroke-width="1.8" />
<text x="570.20" y="316.48" font-size="10.5" fill="#111" stroke="#111" stroke-width="0.3" text-anchor="end" font-weight="bold" >1500</text>
<line x1="571.50" y1="287.34" x2="578.40" y2="287.34" stroke="#111" stroke-width="1.8" />
<text x="570.20" y="291.04" font-size="10.5" fill="#111" stroke="#111" stroke-width="0.3" text-anchor="end" font-weight="bold" >2000</text>
<line x1="571.50" y1="261.90" x2="578.40" y2="261.90" stroke="#111" stroke-width="1.8" />
<text x="570.20" y="265.60" font-size="10.5" fill="#111" stroke="#111" stroke-width="0.3" text-anchor="end" font-weight="bold" >2500</text>
<line x1="547.80" y1="389.40" x2="547.80" y2="394.50" stroke="#111" stroke-width="1.8" />
<text x="547.80" y="406.50" font-size="10.5" fill="#111" stroke="#111" stroke-width="0.3" text-anchor="middle" font-weight="bold" >-5</text>
<line x1="586.30" y1="389.40" x2="586.30" y2="394.50" stroke="#111" stroke-width="1.8" />
<text x="586.30" y="406.50" font-size="10.5" fill="#111" stroke="#111" stroke-width="0.3" text-anchor="middle" font-weight="bold" >0</text>
<line x1="624.80" y1="389.40" x2="624.80" y2="394.50" stroke="#111" stroke-width="1.8" />
<text x="624.80" y="406.50" font-size="10.5" fill="#111" stroke="#111" stroke-width="0.3" text-anchor="middle" font-weight="bold" >5</text>
<line x1="663.30" y1="389.40" x2="663.30" y2="394.50" stroke="#111" stroke-width="1.8" />
<text x="663.30" y="406.50" font-size="10.5" fill="#111" stroke="#111" stroke-width="0.3" text-anchor="middle" font-weight="bold" >10</text>
<line x1="701.80" y1="389.40" x2="701.80" y2="394.50" stroke="#111" stroke-width="1.8" />
<text x="701.80" y="406.50" font-size="10.5" fill="#111" stroke="#111" stroke-width="0.3" text-anchor="middle" font-weight="bold" >15</text>
<line x1="740.30" y1="389.40" x2="740.30" y2="394.50" stroke="#111" stroke-width="1.8" />
<text x="740.30" y="406.50" font-size="10.5" fill="#111" stroke="#111" stroke-width="0.3" text-anchor="middle" font-weight="bold" >20</text>
<line x1="778.80" y1="389.40" x2="778.80" y2="394.50" stroke="#111" stroke-width="1.8" />
<text x="778.80" y="406.50" font-size="10.5" fill="#111" stroke="#111" stroke-width="0.3" text-anchor="middle" font-weight="bold" >25</text>
<text x="580.00" y="422.90" font-size="12.3" fill="#111" stroke="#111" stroke-width="0.3" text-anchor="start" font-weight="bold" >Post CAR-T treatment (days)</text>
<text x="0" y="0" font-size="10.3" fill="#111" stroke="#111" stroke-width="0.3" text-anchor="middle" font-weight="bold" transform="translate(532.6,326.3) rotate(-90)">Tumor volume(mm<tspan font-size="6.5" dy="-3.5">3</tspan><tspan dy="3.5">)</tspan></text>
<line x1="663.30" y1="374.00" x2="663.30" y2="372.00" stroke="#f49ae8" stroke-width="1.2" />
<line x1="660.70" y1="372.00" x2="665.90" y2="372.00" stroke="#f49ae8" stroke-width="1.2" />
<line x1="678.70" y1="371.80" x2="678.70" y2="369.60" stroke="#f49ae8" stroke-width="1.2" />
<line x1="676.10" y1="369.60" x2="681.30" y2="369.60" stroke="#f49ae8" stroke-width="1.2" />
<line x1="694.10" y1="367.10" x2="694.10" y2="364.30" stroke="#f49ae8" stroke-width="1.2" />
<line x1="691.50" y1="364.30" x2="696.70" y2="364.30" stroke="#f49ae8" stroke-width="1.2" />
<line x1="717.20" y1="358.30" x2="717.20" y2="355.20" stroke="#f49ae8" stroke-width="1.2" />
<line x1="714.60" y1="355.20" x2="719.80" y2="355.20" stroke="#f49ae8" stroke-width="1.2" />
<line x1="755.70" y1="344.60" x2="755.70" y2="334.60" stroke="#f49ae8" stroke-width="1.2" />
<line x1="753.10" y1="334.60" x2="758.30" y2="334.60" stroke="#f49ae8" stroke-width="1.2" />
<polyline points="586.30,385.90 609.40,383.30 632.50,381.50 663.30,374.00 678.70,371.80 694.10,367.10 717.20,358.30 755.70,344.60" fill="none" stroke="#f05ce0" stroke-width="1.8" />
<polygon points="586.30,382.30 589.90,388.60 582.70,388.60" fill="#f05ce0" />
<polygon points="609.40,379.70 613.00,386.00 605.80,386.00" fill="#f05ce0" />
<polygon points="632.50,377.90 636.10,384.20 628.90,384.20" fill="#f05ce0" />
<polygon points="663.30,370.40 666.90,376.70 659.70,376.70" fill="#f05ce0" />
<polygon points="678.70,368.20 682.30,374.50 675.10,374.50" fill="#f05ce0" />
<polygon points="694.10,363.50 697.70,369.80 690.50,369.80" fill="#f05ce0" />
<polygon points="717.20,354.70 720.80,361.00 713.60,361.00" fill="#f05ce0" />
<polygon points="755.70,341.00 759.30,347.30 752.10,347.30" fill="#f05ce0" />
<line x1="632.50" y1="378.30" x2="632.50" y2="376.00" stroke="#7070ff" stroke-width="1.2" />
<line x1="629.90" y1="376.00" x2="635.10" y2="376.00" stroke="#7070ff" stroke-width="1.2" />
<line x1="663.30" y1="371.00" x2="663.30" y2="368.50" stroke="#7070ff" stroke-width="1.2" />
<line x1="660.70" y1="368.50" x2="665.90" y2="368.50" stroke="#7070ff" stroke-width="1.2" />
<line x1="694.10" y1="360.10" x2="694.10" y2="354.30" stroke="#7070ff" stroke-width="1.2" />
<line x1="691.50" y1="354.30" x2="696.70" y2="354.30" stroke="#7070ff" stroke-width="1.2" />
<line x1="717.20" y1="346.40" x2="717.20" y2="337.30" stroke="#7070ff" stroke-width="1.2" />
<line x1="714.60" y1="337.30" x2="719.80" y2="337.30" stroke="#7070ff" stroke-width="1.2" />
<line x1="755.70" y1="319.20" x2="755.70" y2="308.60" stroke="#7070ff" stroke-width="1.2" />
<line x1="753.10" y1="308.60" x2="758.30" y2="308.60" stroke="#7070ff" stroke-width="1.2" />
<polyline points="586.30,385.90 609.40,383.30 632.50,378.30 663.30,371.00 678.70,364.80 694.10,360.10 717.20,346.40 755.70,319.20" fill="none" stroke="#1a1aff" stroke-width="1.8" />
<rect x="583.60" y="383.20" width="5.40" height="5.40" fill="#1a1aff" stroke="none" stroke-width="1" />
<rect x="606.70" y="380.60" width="5.40" height="5.40" fill="#1a1aff" stroke="none" stroke-width="1" />
<rect x="629.80" y="375.60" width="5.40" height="5.40" fill="#1a1aff" stroke="none" stroke-width="1" />
<rect x="660.60" y="368.30" width="5.40" height="5.40" fill="#1a1aff" stroke="none" stroke-width="1" />
<rect x="676.00" y="362.10" width="5.40" height="5.40" fill="#1a1aff" stroke="none" stroke-width="1" />
<rect x="691.40" y="357.40" width="5.40" height="5.40" fill="#1a1aff" stroke="none" stroke-width="1" />
<rect x="714.50" y="343.70" width="5.40" height="5.40" fill="#1a1aff" stroke="none" stroke-width="1" />
<rect x="753.00" y="316.50" width="5.40" height="5.40" fill="#1a1aff" stroke="none" stroke-width="1" />
<line x1="609.40" y1="381.50" x2="609.40" y2="379.00" stroke="#6fd86f" stroke-width="1.2" />
<line x1="606.80" y1="379.00" x2="612.00" y2="379.00" stroke="#6fd86f" stroke-width="1.2" />
<line x1="632.50" y1="373.20" x2="632.50" y2="371.00" stroke="#6fd86f" stroke-width="1.2" />
<line x1="629.90" y1="371.00" x2="635.10" y2="371.00" stroke="#6fd86f" stroke-width="1.2" />
<line x1="663.30" y1="364.80" x2="663.30" y2="356.60" stroke="#6fd86f" stroke-width="1.2" />
<line x1="660.70" y1="356.60" x2="665.90" y2="356.60" stroke="#6fd86f" stroke-width="1.2" />
<line x1="678.70" y1="354.30" x2="678.70" y2="340.20" stroke="#6fd86f" stroke-width="1.2" />
<line x1="676.10" y1="340.20" x2="681.30" y2="340.20" stroke="#6fd86f" stroke-width="1.2" />
<line x1="694.10" y1="351.10" x2="694.10" y2="341.10" stroke="#6fd86f" stroke-width="1.2" />
<line x1="691.50" y1="341.10" x2="696.70" y2="341.10" stroke="#6fd86f" stroke-width="1.2" />
<line x1="717.20" y1="320.90" x2="717.20" y2="295.10" stroke="#6fd86f" stroke-width="1.2" />
<line x1="714.60" y1="295.10" x2="719.80" y2="295.10" stroke="#6fd86f" stroke-width="1.2" />
<line x1="755.70" y1="299.50" x2="755.70" y2="282.80" stroke="#6fd86f" stroke-width="1.2" />
<line x1="753.10" y1="282.80" x2="758.30" y2="282.80" stroke="#6fd86f" stroke-width="1.2" />
<polyline points="586.30,385.00 609.40,381.50 632.50,373.20 663.30,364.80 678.70,354.30 694.10,351.10 717.20,320.90 755.70,299.50" fill="none" stroke="#1cc01c" stroke-width="1.8" />
<circle cx="586.30" cy="385.00" r="2.90" fill="#1cc01c" />
<circle cx="609.40" cy="381.50" r="2.90" fill="#1cc01c" />
<circle cx="632.50" cy="373.20" r="2.90" fill="#1cc01c" />
<circle cx="663.30" cy="364.80" r="2.90" fill="#1cc01c" />
<circle cx="678.70" cy="354.30" r="2.90" fill="#1cc01c" />
<circle cx="694.10" cy="351.10" r="2.90" fill="#1cc01c" />
<circle cx="717.20" cy="320.90" r="2.90" fill="#1cc01c" />
<circle cx="755.70" cy="299.50" r="2.90" fill="#1cc01c" />
<line x1="762.60" y1="315.50" x2="762.60" y2="347.90" stroke="#666" stroke-width="1.2" />
<line x1="776.30" y1="293.40" x2="776.30" y2="347.90" stroke="#666" stroke-width="1.2" />
<text x="770.50" y="340.00" font-size="15" fill="#111" stroke="#111" stroke-width="0.3" text-anchor="middle" font-weight="bold" >*</text>
<text x="784.20" y="323.50" font-size="15" fill="#111" stroke="#111" stroke-width="0.3" text-anchor="middle" font-weight="bold" >*</text>
<text x="784.20" y="333.70" font-size="15" fill="#111" stroke="#111" stroke-width="0.3" text-anchor="middle" font-weight="bold" >*</text>
<line x1="798.20" y1="260.60" x2="814.70" y2="260.60" stroke="#1cc01c" stroke-width="1.8" />
<circle cx="806.60" cy="260.60" r="2.90" fill="#1cc01c" />
<text x="824.10" y="263.80" font-size="9.9" fill="#111" stroke="#111" stroke-width="0.3" text-anchor="start" font-weight="bold" >UTD</text>
<line x1="798.20" y1="277.90" x2="814.70" y2="277.90" stroke="#1a1aff" stroke-width="1.8" />
<rect x="803.90" y="275.20" width="5.40" height="5.40" fill="#1a1aff" stroke="none" stroke-width="1" />
<text x="824.10" y="281.10" font-size="9.9" fill="#111" stroke="#111" stroke-width="0.3" text-anchor="start" font-weight="bold" >MSLN CAR-T</text>
<line x1="798.20" y1="294.90" x2="814.70" y2="294.90" stroke="#f05ce0" stroke-width="1.8" />
<polygon points="806.60,290.80 810.20,297.10 803.00,297.10" fill="#f05ce0" />
<text x="824.10" y="298.10" font-size="9.9" fill="#111" stroke="#111" stroke-width="0.3" text-anchor="start" font-weight="bold" >BiTEs CAR-T</text>
<text x="924.20" y="232.20" font-size="14" fill="#111" stroke="#111" stroke-width="0.3" text-anchor="start" font-weight="bold" >F</text>
<text x="1031.30" y="246.90" font-size="13.8" fill="#111" stroke="#111" stroke-width="0.3" text-anchor="start" font-weight="bold" >Survival Day</text>
<line x1="962.00" y1="263.20" x2="962.00" y2="390.20" stroke="#111" stroke-width="2" />
<line x1="961.00" y1="389.20" x2="1180.60" y2="389.20" stroke="#111" stroke-width="2" />
<line x1="956.20" y1="389.20" x2="962.00" y2="389.20" stroke="#111" stroke-width="1.8" />
<text x="955.20" y="392.90" font-size="10.3" fill="#111" stroke="#111" stroke-width="0.3" text-anchor="end" font-weight="bold" >0</text>
<line x1="956.20" y1="332.10" x2="962.00" y2="332.10" stroke="#111" stroke-width="1.8" />
<text x="955.20" y="335.80" font-size="10.3" fill="#111" stroke="#111" stroke-width="0.3" text-anchor="end" font-weight="bold" >50</text>
<line x1="956.20" y1="275.00" x2="962.00" y2="275.00" stroke="#111" stroke-width="1.8" />
<text x="955.20" y="278.70" font-size="10.3" fill="#111" stroke="#111" stroke-width="0.3" text-anchor="end" font-weight="bold" >100</text>
<line x1="962.00" y1="389.20" x2="962.00" y2="393.00" stroke="#111" stroke-width="1.8" />
<text x="962.00" y="405.60" font-size="10.3" fill="#111" stroke="#111" stroke-width="0.3" text-anchor="middle" font-weight="bold" >0</text>
<line x1="1005.60" y1="389.20" x2="1005.60" y2="393.00" stroke="#111" stroke-width="1.8" />
<text x="1005.60" y="405.60" font-size="10.3" fill="#111" stroke="#111" stroke-width="0.3" text-anchor="middle" font-weight="bold" >10</text>
<line x1="1049.20" y1="389.20" x2="1049.20" y2="393.00" stroke="#111" stroke-width="1.8" />
<text x="1049.20" y="405.60" font-size="10.3" fill="#111" stroke="#111" stroke-width="0.3" text-anchor="middle" font-weight="bold" >20</text>
<line x1="1092.80" y1="389.20" x2="1092.80" y2="393.00" stroke="#111" stroke-width="1.8" />
<text x="1092.80" y="405.60" font-size="10.3" fill="#111" stroke="#111" stroke-width="0.3" text-anchor="middle" font-weight="bold" >30</text>
<line x1="1136.40" y1="389.20" x2="1136.40" y2="393.00" stroke="#111" stroke-width="1.8" />
<text x="1136.40" y="405.60" font-size="10.3" fill="#111" stroke="#111" stroke-width="0.3" text-anchor="middle" font-weight="bold" >40</text>
<line x1="1180.00" y1="389.20" x2="1180.00" y2="393.00" stroke="#111" stroke-width="1.8" />
<text x="1180.00" y="405.60" font-size="10.3" fill="#111" stroke="#111" stroke-width="0.3" text-anchor="middle" font-weight="bold" >50</text>
<text x="1071.20" y="420.10" font-size="11.4" fill="#111" stroke="#111" stroke-width="0.3" text-anchor="middle" font-weight="bold" >Days</text>
<text x="0" y="0" font-size="10.2" fill="#111" stroke="#111" stroke-width="0.3" text-anchor="middle" font-weight="bold" transform="translate(929.40,326.30) rotate(-90)">Percent survival</text>
<polyline points="962.00,275.00 1114.60,275.00 1114.60,303.55 1127.68,303.55 1127.68,332.10 1145.12,332.10 1145.12,360.65 1153.84,360.65 1153.84,389.20" fill="none" stroke="#f25ce6" stroke-width="2.2" />
<polyline points="962.00,275.00 1084.08,275.00 1084.08,303.55 1092.80,303.55 1092.80,332.10 1101.52,332.10 1101.52,360.65 1114.60,360.65 1114.60,389.20" fill="none" stroke="#1414f0" stroke-width="2.2" />
<polyline points="962.00,275.00 1057.92,275.00 1057.92,303.55 1075.36,303.55 1075.36,332.10 1097.16,332.10 1097.16,360.65 1101.52,360.65 1101.52,389.20" fill="none" stroke="#22c022" stroke-width="2.2" />
<line x1="1144.50" y1="271.40" x2="1144.50" y2="312.50" stroke="#555" stroke-width="1" />
<line x1="1155.50" y1="288.40" x2="1155.50" y2="307.00" stroke="#555" stroke-width="1" />
<text x="1138.20" y="295.00" font-size="16" fill="#111" stroke="#111" stroke-width="0.3" text-anchor="middle" font-weight="bold" >*</text>
<text x="1138.20" y="305.00" font-size="16" fill="#111" stroke="#111" stroke-width="0.3" text-anchor="middle" font-weight="bold" >*</text>
<text x="1150.30" y="305.20" font-size="16" fill="#111" stroke="#111" stroke-width="0.3" text-anchor="middle" font-weight="bold" >*</text>
<line x1="1161.20" y1="271.60" x2="1176.00" y2="271.60" stroke="#22c022" stroke-width="2.2" />
<line x1="1168.60" y1="271.60" x2="1168.60" y2="269.10" stroke="#22c022" stroke-width="1" />
<text x="1185.30" y="275.00" font-size="10.7" fill="#111" stroke="#111" stroke-width="0.3" text-anchor="start" font-weight="bold" >UTD</text>
<line x1="1161.20" y1="288.70" x2="1176.00" y2="288.70" stroke="#1414f0" stroke-width="2.2" />
<line x1="1168.60" y1="288.70" x2="1168.60" y2="286.20" stroke="#1414f0" stroke-width="1" />
<text x="1185.30" y="291.70" font-size="10.7" fill="#111" stroke="#111" stroke-width="0.3" text-anchor="start" font-weight="bold" >MSLN CAR-T</text>
<line x1="1161.20" y1="305.60" x2="1176.00" y2="305.60" stroke="#f25ce6" stroke-width="2.2" />
<line x1="1168.60" y1="305.60" x2="1168.60" y2="303.10" stroke="#f25ce6" stroke-width="1" />
<text x="1185.30" y="308.90" font-size="10.7" fill="#111" stroke="#111" stroke-width="0.3" text-anchor="start" font-weight="bold" >BiTEs CAR-T</text>
<text x="496.80" y="504.90" font-size="15.3" fill="#111" stroke="#111" stroke-width="0.3" text-anchor="start" font-weight="bold" >G</text>
<line x1="524.40" y1="523.40" x2="524.40" y2="650.40" stroke="#111" stroke-width="1.5" />
<line x1="518.60" y1="649.60" x2="708.60" y2="649.60" stroke="#111" stroke-width="1.5" />
<line x1="518.80" y1="649.60" x2="524.40" y2="649.60" stroke="#111" stroke-width="1.4" />
<text x="517.90" y="653.10" font-size="9.4" fill="#111" stroke="#111" stroke-width="0.3" text-anchor="end" font-weight="bold" >0</text>
<line x1="518.80" y1="624.54" x2="524.40" y2="624.54" stroke="#111" stroke-width="1.4" />
<text x="517.90" y="628.04" font-size="9.4" fill="#111" stroke="#111" stroke-width="0.3" text-anchor="end" font-weight="bold" >5</text>
<line x1="518.80" y1="599.48" x2="524.40" y2="599.48" stroke="#111" stroke-width="1.4" />
<text x="517.90" y="602.98" font-size="9.4" fill="#111" stroke="#111" stroke-width="0.3" text-anchor="end" font-weight="bold" >10</text>
<line x1="518.80" y1="574.42" x2="524.40" y2="574.42" stroke="#111" stroke-width="1.4" />
<text x="517.90" y="577.92" font-size="9.4" fill="#111" stroke="#111" stroke-width="0.3" text-anchor="end" font-weight="bold" >15</text>
<line x1="518.80" y1="549.36" x2="524.40" y2="549.36" stroke="#111" stroke-width="1.4" />
<text x="517.90" y="552.86" font-size="9.4" fill="#111" stroke="#111" stroke-width="0.3" text-anchor="end" font-weight="bold" >20</text>
<line x1="518.80" y1="524.30" x2="524.40" y2="524.30" stroke="#111" stroke-width="1.4" />
<text x="517.90" y="527.80" font-size="9.4" fill="#111" stroke="#111" stroke-width="0.3" text-anchor="end" font-weight="bold" >25</text>
<line x1="524.40" y1="649.60" x2="524.40" y2="653.70" stroke="#111" stroke-width="1.4" />
<text x="524.40" y="665.50" font-size="9.4" fill="#111" stroke="#111" stroke-width="0.3" text-anchor="middle" font-weight="bold" >0</text>
<line x1="561.10" y1="649.60" x2="561.10" y2="653.70" stroke="#111" stroke-width="1.4" />
<text x="561.10" y="665.50" font-size="9.4" fill="#111" stroke="#111" stroke-width="0.3" text-anchor="middle" font-weight="bold" >5</text>
<line x1="597.80" y1="649.60" x2="597.80" y2="653.70" stroke="#111" stroke-width="1.4" />
<text x="597.80" y="665.50" font-size="9.4" fill="#111" stroke="#111" stroke-width="0.3" text-anchor="middle" font-weight="bold" >10</text>
<line x1="634.50" y1="649.60" x2="634.50" y2="653.70" stroke="#111" stroke-width="1.4" />
<text x="634.50" y="665.50" font-size="9.4" fill="#111" stroke="#111" stroke-width="0.3" text-anchor="middle" font-weight="bold" >15</text>
<line x1="671.20" y1="649.60" x2="671.20" y2="653.70" stroke="#111" stroke-width="1.4" />
<text x="671.20" y="665.50" font-size="9.4" fill="#111" stroke="#111" stroke-width="0.3" text-anchor="middle" font-weight="bold" >20</text>
<line x1="707.90" y1="649.60" x2="707.90" y2="653.70" stroke="#111" stroke-width="1.4" />
<text x="707.90" y="665.50" font-size="9.4" fill="#111" stroke="#111" stroke-width="0.3" text-anchor="middle" font-weight="bold" >25</text>
<text x="553.50" y="679.40" font-size="9.3" fill="#111" stroke="#111" stroke-width="0.3" text-anchor="start" font-weight="bold" >Post CAR-T treatment (days)</text>
<text x="0" y="0" font-size="10.6" fill="#111" stroke="#111" stroke-width="0.3" text-anchor="middle" font-weight="bold" transform="translate(503.40,586.80) rotate(-90)">Body Weight (g)</text>
<line x1="524.40" y1="539.34" x2="524.40" y2="534.32" stroke="#f49ae8" stroke-width="1" />
<line x1="522.00" y1="534.32" x2="526.80" y2="534.32" stroke="#f49ae8" stroke-width="1" />
<line x1="546.42" y1="541.84" x2="546.42" y2="535.33" stroke="#f49ae8" stroke-width="1" />
<line x1="544.02" y1="535.33" x2="548.82" y2="535.33" stroke="#f49ae8" stroke-width="1" />
<line x1="597.80" y1="541.84" x2="597.80" y2="534.32" stroke="#f49ae8" stroke-width="1" />
<line x1="595.40" y1="534.32" x2="600.20" y2="534.32" stroke="#f49ae8" stroke-width="1" />
<line x1="612.48" y1="541.84" x2="612.48" y2="534.83" stroke="#f49ae8" stroke-width="1" />
<line x1="610.08" y1="534.83" x2="614.88" y2="534.83" stroke="#f49ae8" stroke-width="1" />
<line x1="627.16" y1="542.34" x2="627.16" y2="537.33" stroke="#f49ae8" stroke-width="1" />
<line x1="624.76" y1="537.33" x2="629.56" y2="537.33" stroke="#f49ae8" stroke-width="1" />
<line x1="671.20" y1="538.33" x2="671.20" y2="533.82" stroke="#f49ae8" stroke-width="1" />
<line x1="668.80" y1="533.82" x2="673.60" y2="533.82" stroke="#f49ae8" stroke-width="1" />
<polyline points="524.40,539.34 546.42,541.84 568.44,542.84 597.80,541.84 612.48,541.84 627.16,542.34 649.18,541.84 671.20,538.33 685.88,539.84" fill="none" stroke="#f05ce0" stroke-width="1.5" />
<polygon points="524.40,536.34 527.40,541.59 521.40,541.59" fill="#f05ce0" />
<polygon points="546.42,538.84 549.42,544.09 543.42,544.09" fill="#f05ce0" />
<polygon points="568.44,539.84 571.44,545.09 565.44,545.09" fill="#f05ce0" />
<polygon points="597.80,538.84 600.80,544.09 594.80,544.09" fill="#f05ce0" />
<polygon points="612.48,538.84 615.48,544.09 609.48,544.09" fill="#f05ce0" />
<polygon points="627.16,539.34 630.16,544.59 624.16,544.59" fill="#f05ce0" />
<polygon points="649.18,538.84 652.18,544.09 646.18,544.09" fill="#f05ce0" />
<polygon points="671.20,535.33 674.20,540.58 668.20,540.58" fill="#f05ce0" />
<polygon points="685.88,536.84 688.88,542.09 682.88,542.09" fill="#f05ce0" />
<line x1="524.40" y1="543.35" x2="524.40" y2="537.83" stroke="#7070ff" stroke-width="1" />
<line x1="522.00" y1="537.83" x2="526.80" y2="537.83" stroke="#7070ff" stroke-width="1" />
<line x1="568.44" y1="543.85" x2="568.44" y2="536.33" stroke="#7070ff" stroke-width="1" />
<line x1="566.04" y1="536.33" x2="570.84" y2="536.33" stroke="#7070ff" stroke-width="1" />
<line x1="627.16" y1="543.35" x2="627.16" y2="539.34" stroke="#7070ff" stroke-width="1" />
<line x1="624.76" y1="539.34" x2="629.56" y2="539.34" stroke="#7070ff" stroke-width="1" />
<line x1="649.18" y1="541.84" x2="649.18" y2="535.33" stroke="#7070ff" stroke-width="1" />
<line x1="646.78" y1="535.33" x2="651.58" y2="535.33" stroke="#7070ff" stroke-width="1" />
<line x1="685.88" y1="537.83" x2="685.88" y2="529.81" stroke="#7070ff" stroke-width="1" />
<line x1="683.48" y1="529.81" x2="688.28" y2="529.81" stroke="#7070ff" stroke-width="1" />
<polyline points="524.40,543.35 546.42,546.35 568.44,543.85 597.80,544.35 612.48,543.85 627.16,543.35 649.18,541.84 671.20,542.34 685.88,537.83" fill="none" stroke="#1a1aff" stroke-width="1.5" />
<rect x="522.10" y="541.05" width="4.60" height="4.60" fill="#1a1aff" stroke="none" stroke-width="1" />
<rect x="544.12" y="544.05" width="4.60" height="4.60" fill="#1a1aff" stroke="none" stroke-width="1" />
<rect x="566.14" y="541.55" width="4.60" height="4.60" fill="#1a1aff" stroke="none" stroke-width="1" />
<rect x="595.50" y="542.05" width="4.60" height="4.60" fill="#1a1aff" stroke="none" stroke-width="1" />
<rect x="610.18" y="541.55" width="4.60" height="4.60" fill="#1a1aff" stroke="none" stroke-width="1" />
<rect x="624.86" y="541.05" width="4.60" height="4.60" fill="#1a1aff" stroke="none" stroke-width="1" />
<rect x="646.88" y="539.54" width="4.60" height="4.60" fill="#1a1aff" stroke="none" stroke-width="1" />
<rect x="668.90" y="540.04" width="4.60" height="4.60" fill="#1a1aff" stroke="none" stroke-width="1" />
<rect x="683.58" y="535.53" width="4.60" height="4.60" fill="#1a1aff" stroke="none" stroke-width="1" />
<line x1="524.40" y1="540.84" x2="524.40" y2="535.33" stroke="#6fd86f" stroke-width="1" />
<line x1="522.00" y1="535.33" x2="526.80" y2="535.33" stroke="#6fd86f" stroke-width="1" />
<line x1="597.80" y1="541.34" x2="597.80" y2="537.83" stroke="#6fd86f" stroke-width="1" />
<line x1="595.40" y1="537.83" x2="600.20" y2="537.83" stroke="#6fd86f" stroke-width="1" />
<line x1="612.48" y1="542.84" x2="612.48" y2="539.34" stroke="#6fd86f" stroke-width="1" />
<line x1="610.08" y1="539.34" x2="614.88" y2="539.34" stroke="#6fd86f" stroke-width="1" />
<line x1="649.18" y1="541.84" x2="649.18" y2="537.83" stroke="#6fd86f" stroke-width="1" />
<line x1="646.78" y1="537.83" x2="651.58" y2="537.83" stroke="#6fd86f" stroke-width="1" />
<line x1="671.20" y1="542.84" x2="671.20" y2="536.33" stroke="#6fd86f" stroke-width="1" />
<line x1="668.80" y1="536.33" x2="673.60" y2="536.33" stroke="#6fd86f" stroke-width="1" />
<polyline points="524.40,540.84 546.42,542.34 568.44,543.35 597.80,541.34 612.48,542.84 627.16,543.35 649.18,541.84 671.20,542.84 685.88,543.85" fill="none" stroke="#1cc01c" stroke-width="1.5" />
<circle cx="524.40" cy="540.84" r="2.50" fill="#1cc01c" />
<circle cx="546.42" cy="542.34" r="2.50" fill="#1cc01c" />
<circle cx="568.44" cy="543.35" r="2.50" fill="#1cc01c" />
<circle cx="597.80" cy="541.34" r="2.50" fill="#1cc01c" />
<circle cx="612.48" cy="542.84" r="2.50" fill="#1cc01c" />
<circle cx="627.16" cy="543.35" r="2.50" fill="#1cc01c" />
<circle cx="649.18" cy="541.84" r="2.50" fill="#1cc01c" />
<circle cx="671.20" cy="542.84" r="2.50" fill="#1cc01c" />
<circle cx="685.88" cy="543.85" r="2.50" fill="#1cc01c" />
<line x1="709.70" y1="532.00" x2="722.40" y2="532.00" stroke="#1cc01c" stroke-width="1.5" />
<circle cx="716.00" cy="532.00" r="2.50" fill="#1cc01c" />
<text x="729.50" y="535.00" font-size="8.2" fill="#111" stroke="#111" stroke-width="0.3" text-anchor="start" font-weight="bold" >UTD</text>
<line x1="709.70" y1="548.70" x2="722.40" y2="548.70" stroke="#1a1aff" stroke-width="1.5" />
<rect x="713.70" y="546.40" width="4.60" height="4.60" fill="#1a1aff" stroke="none" stroke-width="1" />
<text x="729.50" y="551.70" font-size="8.2" fill="#111" stroke="#111" stroke-width="0.3" text-anchor="start" font-weight="bold" >MSLN CAR-T</text>
<line x1="709.70" y1="565.60" x2="722.40" y2="565.60" stroke="#f05ce0" stroke-width="1.5" />
<polygon points="716.00,562.20 719.00,567.45 713.00,567.45" fill="#f05ce0" />
<text x="729.50" y="568.60" font-size="8.2" fill="#111" stroke="#111" stroke-width="0.3" text-anchor="start" font-weight="bold" >BiTEs CAR-T</text>
<text x="803.60" y="492.00" font-size="13.2" fill="#111" stroke="#111" stroke-width="0.3" text-anchor="start" font-weight="bold" >H</text>
<line x1="865.60" y1="481.30" x2="865.60" y2="633.00" stroke="#111" stroke-width="1.6" />
<line x1="859.20" y1="632.30" x2="984.40" y2="632.30" stroke="#111" stroke-width="1.6" />
<line x1="859.20" y1="632.30" x2="865.60" y2="632.30" stroke="#111" stroke-width="1.5" />
<text x="858.40" y="635.90" font-size="10" fill="#111" stroke="#111" stroke-width="0.3" text-anchor="end" font-weight="bold" >0</text>
<line x1="859.20" y1="582.17" x2="865.60" y2="582.17" stroke="#111" stroke-width="1.5" />
<text x="858.40" y="585.77" font-size="10" fill="#111" stroke="#111" stroke-width="0.3" text-anchor="end" font-weight="bold" >20</text>
<line x1="859.20" y1="532.04" x2="865.60" y2="532.04" stroke="#111" stroke-width="1.5" />
<text x="858.40" y="535.64" font-size="10" fill="#111" stroke="#111" stroke-width="0.3" text-anchor="end" font-weight="bold" >40</text>
<line x1="859.20" y1="481.91" x2="865.60" y2="481.91" stroke="#111" stroke-width="1.5" />
<text x="858.40" y="485.51" font-size="10" fill="#111" stroke="#111" stroke-width="0.3" text-anchor="end" font-weight="bold" >60</text>
<text x="0" y="0" font-size="11.2" fill="#111" stroke="#111" stroke-width="0.3" text-anchor="middle" font-weight="bold" transform="translate(840.40,557.10) rotate(-90)">IFN-γ (pg/mL)</text>
<line x1="889.80" y1="632.30" x2="889.80" y2="638.20" stroke="#111" stroke-width="1.5" />
<line x1="925.00" y1="632.30" x2="925.00" y2="638.20" stroke="#111" stroke-width="1.5" />
<line x1="960.40" y1="632.30" x2="960.40" y2="638.20" stroke="#111" stroke-width="1.5" />
<rect x="879.40" y="614.60" width="21.50" height="17.70" fill="none" stroke="#3cbf3c" stroke-width="1.5" />
<rect x="914.00" y="606.80" width="22.00" height="25.50" fill="none" stroke="#4646ff" stroke-width="1.8" />
<rect x="949.80" y="511.30" width="21.50" height="121.00" fill="none" stroke="#f060e0" stroke-width="1.5" />
<line x1="889.50" y1="607.20" x2="889.50" y2="619.20" stroke="#1cc01c" stroke-width="1.1" />
<line x1="887.00" y1="607.20" x2="892.00" y2="607.20" stroke="#1cc01c" stroke-width="1.1" />
<line x1="887.00" y1="619.20" x2="892.00" y2="619.20" stroke="#1cc01c" stroke-width="1.1" />
<circle cx="889.50" cy="608.40" r="2.30" fill="#1cc01c" />
<circle cx="883.50" cy="615.60" r="2.30" fill="#1cc01c" />
<circle cx="895.50" cy="618.00" r="2.30" fill="#1cc01c" />
<line x1="924.90" y1="603.00" x2="924.90" y2="609.60" stroke="#1a1aff" stroke-width="1.1" />
<circle cx="925.30" cy="601.70" r="2.40" fill="#1a1aff" />
<rect x="916.80" y="602.70" width="4.20" height="4.20" fill="#1a1aff" stroke="none" stroke-width="1" />
<rect x="928.70" y="608.70" width="4.20" height="4.20" fill="#1a1aff" stroke="none" stroke-width="1" />
<line x1="960.40" y1="493.40" x2="960.40" y2="526.10" stroke="#f05ce0" stroke-width="1.1" />
<line x1="957.50" y1="493.40" x2="963.30" y2="493.40" stroke="#f05ce0" stroke-width="1.1" />
<line x1="957.50" y1="526.10" x2="963.30" y2="526.10" stroke="#f05ce0" stroke-width="1.1" />
<polygon points="960.40,491.20 963.10,495.92 957.70,495.92" fill="#f05ce0" />
<polygon points="960.40,511.50 963.10,516.23 957.70,516.23" fill="#f05ce0" />
<polygon points="960.40,522.70 963.10,527.42 957.70,527.42" fill="#f05ce0" />
<line x1="859.20" y1="632.30" x2="984.40" y2="632.30" stroke="#111" stroke-width="1.6" />
<line x1="924.90" y1="486.90" x2="960.80" y2="486.90" stroke="#777" stroke-width="1.7" />
<text x="943.40" y="486.30" font-size="15" fill="#111" stroke="#111" stroke-width="0.3" text-anchor="middle" font-weight="bold" letter-spacing="1.2">***</text>
<text x="0" y="0" font-size="10" fill="#111" stroke="#111" stroke-width="0.3" text-anchor="end" font-weight="bold" transform="translate(893.00,648.60) rotate(-45)">UTD</text>
<text x="0" y="0" font-size="10" fill="#111" stroke="#111" stroke-width="0.3" text-anchor="end" font-weight="bold" transform="translate(927.70,649.80) rotate(-45)">MSLN CAR-T</text>
<text x="0" y="0" font-size="10" fill="#111" stroke="#111" stroke-width="0.3" text-anchor="end" font-weight="bold" transform="translate(963.00,649.80) rotate(-45)">BiTEs CAR-T</text>
<text x="1033.50" y="489.60" font-size="13.2" fill="#111" stroke="#111" stroke-width="0.3" text-anchor="start" font-weight="bold" >I</text>
<line x1="1106.50" y1="479.10" x2="1106.50" y2="634.00" stroke="#111" stroke-width="1.6" />
<line x1="1100.00" y1="633.30" x2="1230.20" y2="633.30" stroke="#111" stroke-width="1.6" />
<line x1="1100.00" y1="633.30" x2="1106.50" y2="633.30" stroke="#111" stroke-width="1.5" />
<text x="1098.40" y="636.90" font-size="10" fill="#111" stroke="#111" stroke-width="0.3" text-anchor="end" font-weight="bold" >0</text>
<line x1="1100.00" y1="582.10" x2="1106.50" y2="582.10" stroke="#111" stroke-width="1.5" />
<text x="1098.40" y="585.70" font-size="10" fill="#111" stroke="#111" stroke-width="0.3" text-anchor="end" font-weight="bold" >2</text>
<line x1="1100.00" y1="530.90" x2="1106.50" y2="530.90" stroke="#111" stroke-width="1.5" />
<text x="1098.40" y="534.50" font-size="10" fill="#111" stroke="#111" stroke-width="0.3" text-anchor="end" font-weight="bold" >4</text>
<line x1="1100.00" y1="479.70" x2="1106.50" y2="479.70" stroke="#111" stroke-width="1.5" />
<text x="1098.40" y="483.30" font-size="10" fill="#111" stroke="#111" stroke-width="0.3" text-anchor="end" font-weight="bold" >6</text>
<text x="0" y="0" font-size="12.9" fill="#111" stroke="#111" stroke-width="0.3" text-anchor="middle" font-weight="bold" transform="translate(1085.20,556.00) rotate(-90)">CD45+CD3+ (%)</text>
<line x1="1131.10" y1="633.30" x2="1131.10" y2="639.50" stroke="#111" stroke-width="1.5" />
<line x1="1167.60" y1="633.30" x2="1167.60" y2="639.50" stroke="#111" stroke-width="1.5" />
<line x1="1204.20" y1="633.30" x2="1204.20" y2="639.50" stroke="#111" stroke-width="1.5" />
<rect x="1120.20" y="630.40" width="22.30" height="2.90" fill="none" stroke="#3cbf3c" stroke-width="1.5" />
<rect x="1156.40" y="626.80" width="23.00" height="6.50" fill="none" stroke="#4646ff" stroke-width="1.8" />
<rect x="1193.20" y="547.60" width="22.50" height="85.70" fill="none" stroke="#f060e0" stroke-width="1.5" />
<circle cx="1123.20" cy="627.70" r="2.30" fill="#1cc01c" />
<circle cx="1131.10" cy="629.20" r="2.30" fill="#1cc01c" />
<circle cx="1139.20" cy="629.70" r="2.30" fill="#1cc01c" />
<line x1="1167.50" y1="621.00" x2="1167.50" y2="633.00" stroke="#1a1aff" stroke-width="1.1" />
<rect x="1165.40" y="617.80" width="4.20" height="4.20" fill="#1a1aff" stroke="none" stroke-width="1" />
<rect x="1158.00" y="626.40" width="4.20" height="4.20" fill="#1a1aff" stroke="none" stroke-width="1" />
<rect x="1171.50" y="626.40" width="4.20" height="4.20" fill="#1a1aff" stroke="none" stroke-width="1" />
<line x1="1204.40" y1="501.40" x2="1204.40" y2="591.60" stroke="#f05ce0" stroke-width="1.1" />
<line x1="1201.40" y1="501.40" x2="1207.40" y2="501.40" stroke="#f05ce0" stroke-width="1.1" />
<line x1="1201.40" y1="591.60" x2="1207.40" y2="591.60" stroke="#f05ce0" stroke-width="1.1" />
<polygon points="1204.40,493.00 1207.10,497.72 1201.70,497.72" fill="#f05ce0" />
<polygon points="1204.40,561.30 1207.10,566.02 1201.70,566.02" fill="#f05ce0" />
<polygon points="1204.40,579.10 1207.10,583.82 1201.70,583.82" fill="#f05ce0" />
<line x1="1100.00" y1="633.30" x2="1230.20" y2="633.30" stroke="#111" stroke-width="1.6" />
<line x1="1167.90" y1="481.60" x2="1203.70" y2="481.60" stroke="#444" stroke-width="1.6" />
<text x="1186.00" y="478.50" font-size="15" fill="#111" stroke="#111" stroke-width="0.3" text-anchor="middle" font-weight="bold" >*</text>
<text x="0" y="0" font-size="11.2" fill="#111" stroke="#111" stroke-width="0.3" text-anchor="end" font-weight="bold" transform="translate(1134.80,651.00) rotate(-45)">UTD</text>
<text x="0" y="0" font-size="11.2" fill="#111" stroke="#111" stroke-width="0.3" text-anchor="end" font-weight="bold" transform="translate(1171.60,652.60) rotate(-45)">MSLN CAR-T</text>
<text x="0" y="0" font-size="11.2" fill="#111" stroke="#111" stroke-width="0.3" text-anchor="end" font-weight="bold" transform="translate(1207.50,652.60) rotate(-45)">BiTEs CAR-T</text>
</svg></body></html>
